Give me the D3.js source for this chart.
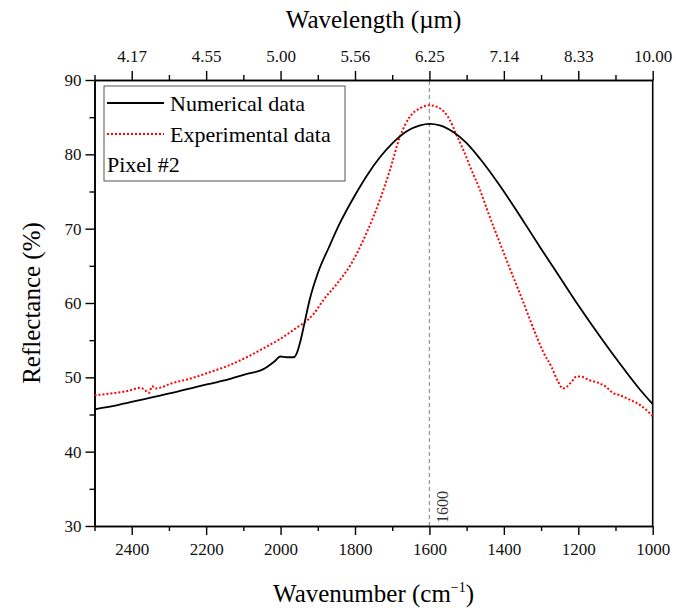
<!DOCTYPE html>
<html>
<head>
<meta charset="utf-8">
<script src="https://cdn.jsdelivr.net/npm/d3@7"></script>
<style>
  body { margin: 0; background: #fff; }
  svg { display: block; }
</style>
</head>
<body>
<script>
// Numerical data (wavenumber in cm^-1, reflectance in %)
const numWavenumber = [2500, 2435, 2363, 2292, 2220, 2167, 2135, 2095, 2046, 2015, 2001, 1983, 1965, 1956, 1947, 1934, 1922, 1900, 1870, 1840, 1800, 1766, 1733, 1697, 1661, 1625, 1600, 1572, 1536, 1500, 1464, 1411, 1350, 1300, 1250, 1200, 1143, 1089, 1035, 1000];
const numReflectance = [45.7, 46.3, 47.1, 47.9, 48.8, 49.4, 49.8, 50.4, 51.1, 52.2, 52.8, 52.7, 52.7, 53.3, 54.8, 57.7, 60.4, 64.0, 67.5, 70.8, 74.5, 77.3, 79.6, 81.6, 83.1, 83.9, 84.1, 83.9, 83.0, 81.5, 79.4, 75.8, 71.2, 67.3, 63.5, 59.7, 55.6, 51.9, 48.4, 46.4];

// Experimental data
const expWavenumber = [2500, 2444, 2408, 2377, 2365, 2354, 2345, 2336, 2292, 2238, 2184, 2149, 2095, 2046, 2000, 1956, 1930, 1910, 1885, 1850, 1810, 1770, 1733, 1706, 1679, 1652, 1625, 1600, 1572, 1545, 1527, 1509, 1487, 1464, 1446, 1400, 1350, 1308, 1295, 1272, 1254, 1241, 1232, 1218, 1205, 1192, 1170, 1143, 1125, 1107, 1089, 1062, 1035, 1017, 1000];
const expReflectance = [47.6, 47.9, 48.2, 48.6, 48.3, 47.9, 48.8, 48.5, 49.2, 49.9, 50.8, 51.4, 52.6, 53.9, 55.2, 56.7, 57.6, 58.6, 60.4, 62.5, 65.3, 69.3, 73.9, 77.9, 82.4, 85.1, 86.2, 86.6, 86.2, 84.6, 82.6, 80.6, 77.9, 75.2, 72.7, 66.7, 60.4, 55.0, 53.5, 51.4, 49.4, 48.5, 48.7, 49.4, 50.1, 50.1, 49.6, 49.2, 48.7, 47.9, 47.6, 47.0, 46.3, 45.6, 44.8];

// ticks
const wnMajorTicks = [2400, 2200, 2000, 1800, 1600, 1400, 1200, 1000];
const wnMinorTicks = [2500, 2300, 2100, 1900, 1700, 1500, 1300, 1100];
const wavelengthLabels = ["4.17", "4.55", "5.00", "5.56", "6.25", "7.14", "8.33", "10.00"];
const yMajorTicks = [30, 40, 50, 60, 70, 80, 90];
const yMinorTicks = [35, 45, 55, 65, 75, 85];
const markerWavenumber = 1600;

const legendItems = ["Numerical data", "Experimental data"];

const width = 676, height = 610;
const marginLeft = 94.5, marginRight = 23.3, marginTop = 80, marginBottom = 84;
const font = "'Liberation Serif', 'Times New Roman', serif";

const x = d3.scaleLinear().domain([2500, 1000]).range([marginLeft, width - marginRight]);
const y = d3.scaleLinear().domain([30, 90]).range([height - marginBottom, marginTop]);

const svg = d3.select("body").append("svg")
  .attr("width", width)
  .attr("height", height)
  .attr("font-family", font);

// frame (right side, no ticks)
svg.append("line")
  .attr("x1", x(1000)).attr("x2", x(1000))
  .attr("y1", y(30)).attr("y2", y(90))
  .attr("stroke", "#000").attr("stroke-width", 1.6);

// marker line at 1600
svg.append("line")
  .attr("x1", x(markerWavenumber)).attr("x2", x(markerWavenumber))
  .attr("y1", y(30)).attr("y2", y(90))
  .attr("stroke", "#999").attr("stroke-width", 1.3)
  .attr("stroke-dasharray", "4,3");

svg.append("text")
  .attr("transform", `translate(${x(markerWavenumber) + 19},${y(30) - 3}) rotate(-90)`)
  .attr("font-size", 16)
  .attr("fill", "#333")
  .text(String(markerWavenumber));

function styleAxis(g) {
  g.selectAll(".domain").attr("stroke", "#000").attr("stroke-width", 1.6);
  g.selectAll(".tick line").attr("stroke", "#000").attr("stroke-width", 1.4);
  g.selectAll(".tick text").attr("fill", "#111").attr("font-family", font).attr("font-size", 17);
}

// bottom axis
svg.append("g")
  .attr("transform", `translate(0,${y(30)})`)
  .call(d3.axisBottom(x).tickValues(wnMajorTicks).tickSize(9).tickSizeOuter(0).tickPadding(8)
    .tickFormat(d3.format("d")))
  .call(styleAxis);
svg.append("g")
  .attr("transform", `translate(0,${y(30)})`)
  .call(d3.axisBottom(x).tickValues(wnMinorTicks).tickSize(5).tickSizeOuter(0).tickFormat(""))
  .call(styleAxis);

// top axis (wavelength in um)
svg.append("g")
  .attr("transform", `translate(0,${y(90)})`)
  .call(d3.axisTop(x).tickValues(wnMajorTicks).tickSize(9).tickSizeOuter(0).tickPadding(9)
    .tickFormat((d, i) => wavelengthLabels[i]))
  .call(styleAxis);
svg.append("g")
  .attr("transform", `translate(0,${y(90)})`)
  .call(d3.axisTop(x).tickValues(wnMinorTicks).tickSize(5).tickSizeOuter(0).tickFormat(""))
  .call(styleAxis);

// left axis
svg.append("g")
  .attr("transform", `translate(${x(2500)},0)`)
  .call(d3.axisLeft(y).tickValues(yMajorTicks).tickSize(9).tickSizeOuter(0).tickPadding(4))
  .call(styleAxis);
svg.append("g")
  .attr("transform", `translate(${x(2500)},0)`)
  .call(d3.axisLeft(y).tickValues(yMinorTicks).tickSize(5).tickSizeOuter(0).tickFormat(""))
  .call(styleAxis);

// lines
const line = d3.line()
  .x((d) => x(d[0]))
  .y((d) => y(d[1]))
  .curve(d3.curveMonotoneX);

svg.append("path")
  .datum(expWavenumber.map((w, i) => [w, expReflectance[i]]))
  .attr("fill", "none")
  .attr("stroke", "#ff0000")
  .attr("stroke-width", 2)
  .attr("stroke-dasharray", "2,2")
  .attr("d", line);

svg.append("path")
  .datum(numWavenumber.map((w, i) => [w, numReflectance[i]]))
  .attr("fill", "none")
  .attr("stroke", "#000")
  .attr("stroke-width", 1.8)
  .attr("d", line);

// axis titles
svg.append("text")
  .attr("x", (x(2500) + x(1000)) / 2)
  .attr("y", 28)
  .attr("text-anchor", "middle")
  .attr("font-size", 25)
  .text("Wavelength (\u00b5m)");

const xt = svg.append("text")
  .attr("x", (x(2500) + x(1000)) / 2)
  .attr("y", 602)
  .attr("text-anchor", "middle")
  .attr("font-size", 25);
xt.append("tspan").text("Wavenumber (cm");
xt.append("tspan").attr("font-size", 14).attr("dy", -10).text("\u22121");
xt.append("tspan").attr("dy", 10).text(")");

svg.append("text")
  .attr("transform", `translate(40,${(y(30) + y(90)) / 2}) rotate(-90)`)
  .attr("text-anchor", "middle")
  .attr("font-size", 25)
  .text("Reflectance (%)");

// legend
const lg = svg.append("g").attr("transform", "translate(104,86)");
lg.append("rect")
  .attr("width", 241).attr("height", 95)
  .attr("fill", "#fff")
  .attr("stroke", "#555").attr("stroke-width", 1);
lg.append("line")
  .attr("x1", 3).attr("x2", 60).attr("y1", 17).attr("y2", 17)
  .attr("stroke", "#000").attr("stroke-width", 1.8);
lg.append("line")
  .attr("x1", 3).attr("x2", 60).attr("y1", 48).attr("y2", 48)
  .attr("stroke", "#ff0000").attr("stroke-width", 2).attr("stroke-dasharray", "2,2");
lg.selectAll("text.item")
  .data(legendItems)
  .join("text")
  .attr("class", "item")
  .attr("x", 66)
  .attr("y", (d, i) => 25 + i * 31)
  .attr("font-size", 22)
  .text((d) => d);
lg.append("text")
  .attr("x", 3).attr("y", 86)
  .attr("font-size", 22)
  .text("Pixel #2");
</script>
</body>
</html>
